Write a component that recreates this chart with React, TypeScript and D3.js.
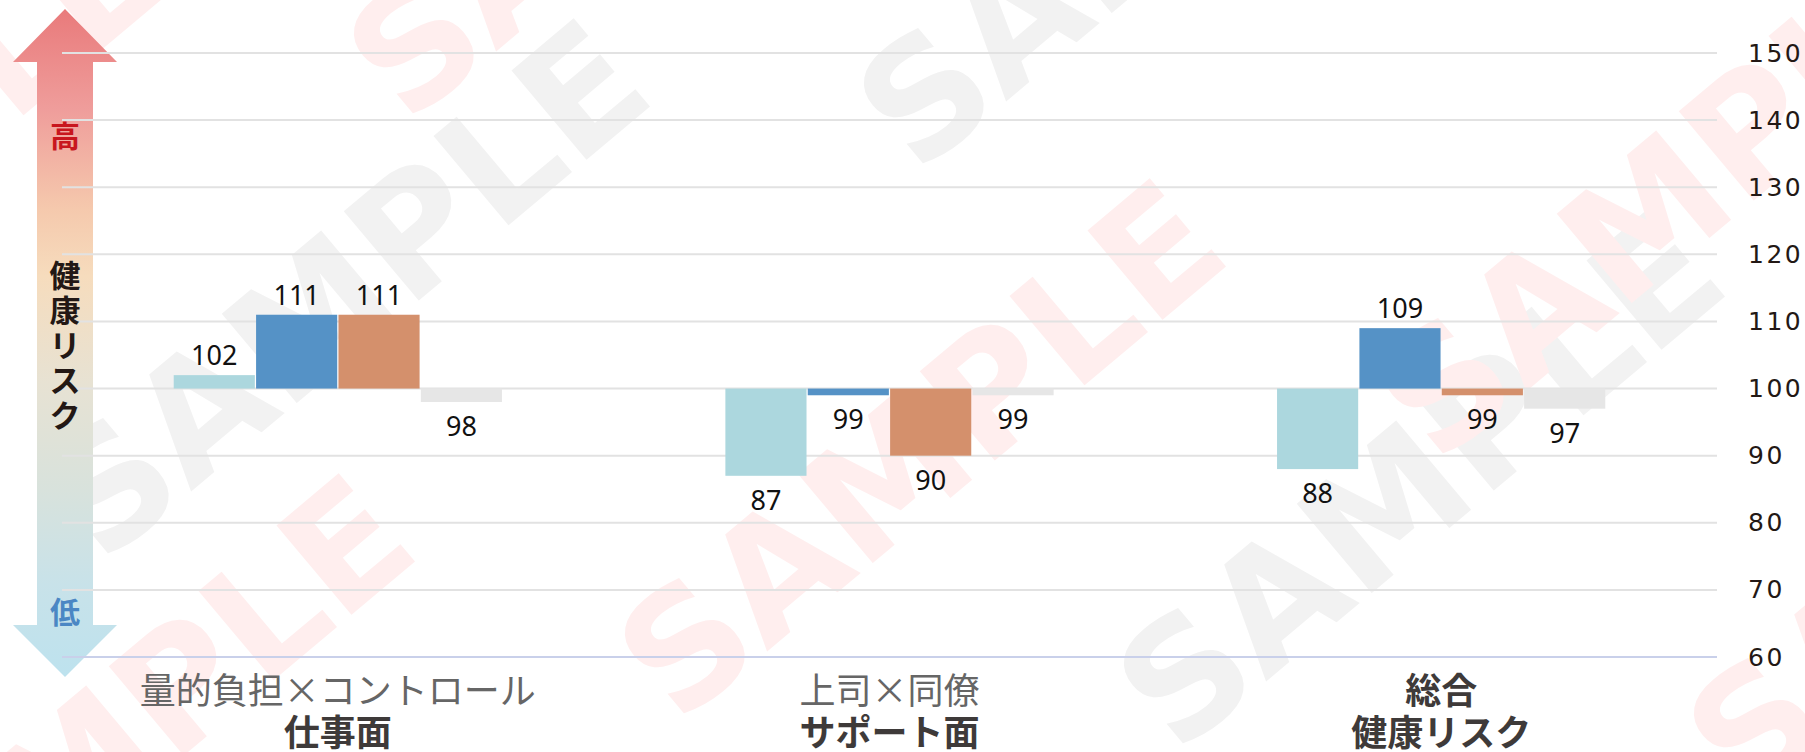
import React from 'react'
import { scaleLinear, scaleBand, range } from 'd3'

// category labels (two lines each)
const catLine1 = ['量的負担×コントロール', '上司×同僚', '総合']
const catLine2 = ['仕事面', 'サポート面', '健康リスク']

// four series per category
const seriesKeys = ['s1', 's2', 's3', 's4']
const s1 = [102, 87, 88]
const s2 = [111, 99, 109]
const s3 = [111, 90, 99]
const s4 = [98, 99, 97]
const seriesColors = ['#acd7de', '#5592c6', '#d4906c', '#e6e6e6']

const yTicks = [60, 70, 80, 90, 100, 110, 120, 130, 140, 150]
const baseValue = 100

const arrowTop = '高'
const arrowMid = '健康リスク'
const arrowBottom = '低'

const watermarks = [
  { x: 345, y: 290, c: '#f2f2f2' },
  { x: 921, y: 450, c: '#ffeeee' },
  { x: 1420, y: 480, c: '#f2f2f2' },
  { x: 1680, y: 190, c: '#ffeeee' },
  { x: 1160, y: -100, c: '#f2f2f2' },
  { x: 650, y: -150, c: '#ffeeee' },
  { x: 110, y: 745, c: '#ffeeee' },
  { x: -140, y: 180, c: '#ffeeee' },
  { x: 1990, y: 530, c: '#ffeeee' },
]

const App = () => {
  const width = 1805
  const height = 752
  const plotLeft = 62
  const plotRight = 1717

  const allSeries = [s1, s2, s3, s4]

  const x0 = scaleBand<number>()
    .domain(range(catLine1.length))
    .range([plotLeft, plotRight])
    .padding(0)
  const groupW = x0.bandwidth() * 0.595
  const x1 = scaleBand<string>()
    .domain(seriesKeys)
    .range([(x0.bandwidth() - groupW) / 2, (x0.bandwidth() + groupW) / 2])
    .paddingInner(0.015)

  const yScale = scaleLinear().domain([60, 150]).range([657, 53])

  // arrow geometry
  const ax = 65
  const headW = 52
  const shaftW = 28
  const tipTop = 9
  const baseTop = 62
  const baseBot = 625
  const tipBot = 677
  const arrowPath = `M${ax},${tipTop} L${ax + headW},${baseTop} L${ax + shaftW},${baseTop} L${ax + shaftW},${baseBot} L${ax + headW},${baseBot} L${ax},${tipBot} L${ax - headW},${baseBot} L${ax - shaftW},${baseBot} L${ax - shaftW},${baseTop} L${ax - headW},${baseTop} Z`

  return (
    <svg width={width} height={height} style={{ position: 'absolute', left: 0, top: 0, background: '#fff' }}>
      <defs>
        <linearGradient id='riskGrad' x1='0' y1={tipTop} x2='0' y2={tipBot} gradientUnits='userSpaceOnUse'>
          <stop offset='0' stopColor='#e97a7b' />
          <stop offset='0.15' stopColor='#ef9d9b' />
          <stop offset='0.3' stopColor='#f5c9ad' />
          <stop offset='0.4' stopColor='#f6dcbd' />
          <stop offset='0.56' stopColor='#e7e2d3' />
          <stop offset='0.72' stopColor='#d8e2dc' />
          <stop offset='0.86' stopColor='#c8e2e9' />
          <stop offset='1' stopColor='#bde2ee' />
        </linearGradient>
      </defs>

      {/* watermark */}
      {watermarks.map((w, i) => (
        <text key={i} transform={`translate(${w.x},${w.y}) rotate(-40)`}
          textAnchor='middle' dominantBaseline='central'
          fontFamily='DejaVu Sans' fontWeight='bold' fontSize={160} fill={w.c}>
          SAMPLE
        </text>
      ))}

      <path d={arrowPath} fill='url(#riskGrad)' />

      {/* grid */}
      {yTicks.map(t => (
        <g key={t}>
          <line x1={plotLeft} x2={plotRight} y1={yScale(t)} y2={yScale(t)}
            stroke={t === 60 ? '#c9d0ea' : '#e2e2e2'} strokeWidth={2} />
          <text x={1748} y={yScale(t)} dominantBaseline='central'
            fontFamily='DejaVu Sans' fontSize={25} letterSpacing={2.5} fill='#231815'>{t}</text>
        </g>
      ))}

      {/* arrow labels */}
      <text x={ax} y={134} textAnchor='middle' dominantBaseline='central'
        fontFamily='Noto Sans CJK JP' fontWeight='bold' fontSize={30} fill='#c8161e'>{arrowTop}</text>
      <text textAnchor='middle' dominantBaseline='central'
        fontFamily='Noto Sans CJK JP' fontWeight='bold' fontSize={31} fill='#231815'>
        {arrowMid.split('').map((ch, i) => (
          <tspan key={i} x={ax} y={273 + i * 35}>{ch}</tspan>
        ))}
      </text>
      <text x={ax} y={610} textAnchor='middle' dominantBaseline='central'
        fontFamily='Noto Sans CJK JP' fontWeight='bold' fontSize={30} fill='#4b87c4'>{arrowBottom}</text>

      {/* bars */}
      {catLine1.map((c, ci) => (
        <g key={c} transform={`translate(${x0(ci)},0)`}>
          {seriesKeys.map((k, si) => {
            const v = allSeries[si][ci]
            const top = yScale(Math.max(v, baseValue))
            const bot = yScale(Math.min(v, baseValue))
            const bx = x1(k) as number
            return (
              <g key={k}>
                <rect x={bx} y={top} width={x1.bandwidth()} height={bot - top} fill={seriesColors[si]} />
                <text x={bx + x1.bandwidth() / 2}
                  y={v >= baseValue ? yScale(v) - 10 : yScale(v) + 34}
                  textAnchor='middle' fontFamily='Noto Sans' fontSize={27} fill='#111'>{v}</text>
              </g>
            )
          })}
          <text x={x0.bandwidth() / 2} y={704} textAnchor='middle'
            fontFamily='Noto Sans CJK JP' fontSize={36}
            fontWeight={ci === 2 ? 'bold' : 'normal'}
            fill={ci === 2 ? '#3e3a39' : '#666'}>{catLine1[ci]}</text>
          <text x={x0.bandwidth() / 2} y={746} textAnchor='middle'
            fontFamily='Noto Sans CJK JP' fontWeight='bold' fontSize={36} fill='#3e3a39'>{catLine2[ci]}</text>
        </g>
      ))}
    </svg>
  )
}

export default App
